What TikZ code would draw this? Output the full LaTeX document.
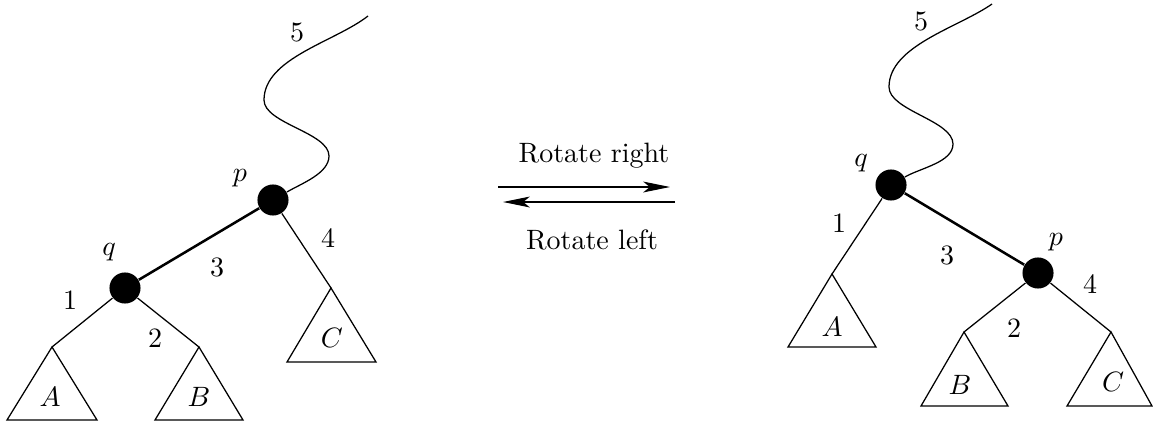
\documentclass[tikz,border=0pt]{standalone}
\usetikzlibrary{arrows.meta}
\begin{document}
\begin{tikzpicture}[x=0.35714pt,y=0.35714pt,
  vert/.style={circle,fill=black,inner sep=0pt,minimum size=11.1pt},
  lbl/.style={inner sep=0pt,font=\normalsize},
  edge/.style={line width=0.45pt},
  heavy/.style={line width=0.9pt},
  tri/.style={line width=0.45pt,line join=miter},
  arr/.style={line width=0.45pt,-{Stealth[length=9.6pt,width=3.9pt,inset=2.4pt]}}]
\useasboundingbox (0,0) rectangle (1153,421);
% ---------- left tree ----------
\node[vert] (p1) at (273,221) {};
\node[vert] (q1) at (125,133) {};
\coordinate (a1) at (52,74);
\coordinate (b1) at (199,74);
\coordinate (c1) at (331,133);
\coordinate (top1) at (368,405);
\draw[heavy] (p1) -- (q1);
\draw[edge] (q1) -- (a1);
\draw[edge] (q1) -- (b1);
\draw[edge] (p1) -- (c1);
\draw[tri] (a1) -- (7,1) -- (97,1) -- cycle;
\draw[tri] (b1) -- (155,1) -- (243,1) -- cycle;
\draw[tri] (c1) -- (287,59) -- (376,59) -- cycle;
\draw[edge] (p1) to[out=30,in=-90,looseness=0.8] (329,265) to[out=90,in=-90,looseness=0.7] (264,321) to[out=90,in=218,looseness=0.8] (top1);
\node[lbl] (A1) at (50,24) {$A$};
\node[lbl] (B1) at (199,24) {$B$};
\node[lbl] (C1) at (332,83) {$C$};
\node[lbl] (l11) at (70,121) {1};
\node[lbl] (l21) at (155,83) {2};
\node[lbl] (l31) at (217,154) {3};
\node[lbl] (l41) at (328,183) {4};
\node[lbl] (l51) at (297,389) {5};
\node[lbl] (q1l) at (109,169) {$q$};
\node[lbl] (p1l) at (240,243) {$p$};
% ---------- arrows ----------
\coordinate (r0) at (498,234);
\coordinate (r1) at (670,234);
\coordinate (s0) at (675,219);
\coordinate (s1) at (503,219);
\draw[arr] (r0) -- (r1);
\draw[arr] (s0) -- (s1);
\node[lbl] (rr) at (594,265) {Rotate right};
\node[lbl] (rl) at (592,181) {Rotate left};
% ---------- right tree ----------
\node[vert] (q2) at (891,236) {};
\node[vert] (p2) at (1038,148) {};
\coordinate (a2) at (832,147);
\coordinate (b2) at (964,89);
\coordinate (c2) at (1111,89);
\coordinate (top2) at (992,417);
\draw[heavy] (q2) -- (p2);
\draw[edge] (q2) -- (a2);
\draw[edge] (p2) -- (b2);
\draw[edge] (p2) -- (c2);
\draw[tri] (a2) -- (788,74) -- (876,74) -- cycle;
\draw[tri] (b2) -- (921,15) -- (1008,15) -- cycle;
\draw[tri] (c2) -- (1067,15) -- (1152,15) -- cycle;
\draw[edge] (q2) to[out=30,in=-90,looseness=0.8] (953,277) to[out=90,in=-90,looseness=0.7] (889,334) to[out=90,in=215,looseness=0.8] (top2);
\node[lbl] (A2) at (832,94) {$A$};
\node[lbl] (B2) at (960,36) {$B$};
\node[lbl] (C2) at (1113,39) {$C$};
\node[lbl] (l12) at (839,198) {1};
\node[lbl] (l22) at (1014,93) {2};
\node[lbl] (l32) at (947,166) {3};
\node[lbl] (l42) at (1090,137) {4};
\node[lbl] (l52) at (921,400) {5};
\node[lbl] (q2l) at (861,258) {$q$};
\node[lbl] (p2l) at (1056,179) {$p$};
\end{tikzpicture}
\end{document}
